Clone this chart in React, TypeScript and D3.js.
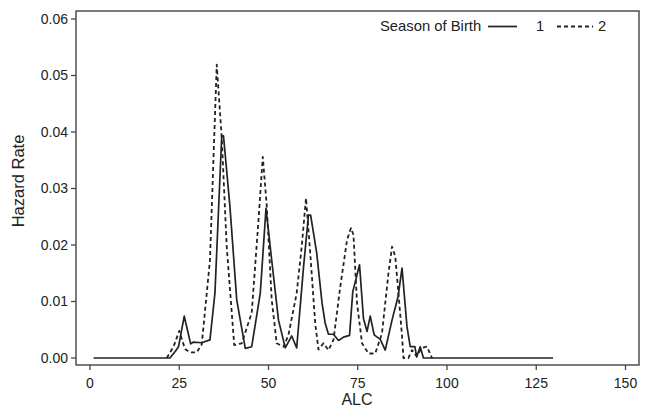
import React from "react";
import * as d3 from "d3";

// Series 1 (solid): [ALC, hazard]
const season1X = [1, 22.4, 23.8, 24.8, 26.4, 28.2, 28.9, 31.3, 33.6, 35, 36.9, 37.4, 39.2, 41.1, 43.5, 45.3, 47.7, 49.3, 50.9, 52.8, 54.7, 56.5, 57.9, 59.8, 61.2, 61.8, 63.5, 65, 65.9, 66.8, 68.2, 69.6, 71, 72.7, 73.6, 75.5, 76.6, 77.6, 78.5, 79.6, 81.3, 82.7, 84.6, 86.3, 87.4, 88.8, 89.7, 91, 91.5, 92.5, 93.4, 129.7];
const season1Y = [0, 0, 0.0011, 0.002, 0.0074, 0.0025, 0.0028, 0.0027, 0.0032, 0.0115, 0.0393, 0.0393, 0.0268, 0.0103, 0.0017, 0.002, 0.0115, 0.0265, 0.0173, 0.0067, 0.0018, 0.0039, 0.0018, 0.016, 0.0253, 0.0253, 0.0186, 0.0097, 0.0061, 0.0042, 0.0042, 0.0031, 0.0037, 0.004, 0.0117, 0.0165, 0.007, 0.0047, 0.0074, 0.0041, 0.0033, 0.0014, 0.0067, 0.0109, 0.0159, 0.0055, 0.002, 0.002, 0.0002, 0.002, 0, 0];

// Series 2 (dashed)
const season2X = [21.5, 23.4, 25, 26.6, 28, 29.9, 31.3, 33.6, 35.5, 36.9, 38.3, 40.4, 42.5, 45.3, 47.2, 48.4, 49.5, 50.9, 52.3, 54.2, 55.6, 57.9, 59.3, 60.5, 61.7, 63.1, 64, 65.4, 66.8, 68.2, 70.1, 72, 73.1, 73.8, 74.8, 76.2, 78, 79.9, 81.8, 83.6, 84.6, 85.5, 86.4, 87.4, 87.8, 89.2, 90.2, 91.5, 92.9, 94.4, 95.8];
const season2Y = [0, 0.002, 0.0048, 0.0016, 0.001, 0.001, 0.0024, 0.0173, 0.0519, 0.039, 0.0197, 0.0023, 0.0026, 0.008, 0.0244, 0.0356, 0.027, 0.0103, 0.0026, 0.002, 0.0041, 0.0115, 0.0197, 0.0283, 0.0185, 0.006, 0.0015, 0.0026, 0.0014, 0.0032, 0.0126, 0.0209, 0.023, 0.0218, 0.0097, 0.0026, 0.0008, 0.0008, 0.0044, 0.015, 0.0197, 0.018, 0.0115, 0.0039, 0, 0, 0.0014, 0.0003, 0.0018, 0.002, 0];

const xTicks = [0, 25, 50, 75, 100, 125, 150];
const yTicks = [0, 0.01, 0.02, 0.03, 0.04, 0.05, 0.06];
const legendTitle = "Season of Birth";
const seriesNames = ["1", "2"];
const xTitle = "ALC";
const yTitle = "Hazard Rate";

const W = 646;
const H = 410;
const FONT = "'Liberation Sans', Arial, sans-serif";
const INK = "#222";

export default function App() {
  const x = d3.scaleLinear().domain([0, 150]).range([90, 625.5]);
  const y = d3.scaleLinear().domain([0, 0.06]).range([358, 19]);
  const box = { l: 76, t: 11, r: 639, b: 365 };

  const line = d3
    .line<[number, number]>()
    .x((d) => x(d[0]))
    .y((d) => y(d[1]));

  const s1 = season1X.map((v, i) => [v, season1Y[i]] as [number, number]);
  const s2 = season2X.map((v, i) => [v, season2Y[i]] as [number, number]);

  return (
    <svg
      width={W}
      height={H}
      style={{ position: "absolute", left: 0, top: 0, background: "#fff" }}
      fontFamily={FONT}
    >
      <rect x={0} y={0} width={W} height={H} fill="#fff" />
      {/* series */}
      <path d={line(s1) || ""} fill="none" stroke={INK} strokeWidth={1.7} strokeLinejoin="round" />
      <path
        d={line(s2) || ""}
        fill="none"
        stroke={INK}
        strokeWidth={1.8}
        strokeDasharray="4,3"
        strokeLinejoin="round"
      />
      {/* frame */}
      <rect
        x={box.l}
        y={box.t}
        width={box.r - box.l}
        height={box.b - box.t}
        fill="none"
        stroke="#444"
        strokeWidth={1.4}
      />
      {/* y axis */}
      {yTicks.map((t) => (
        <g key={"y" + t}>
          <line x1={box.l - 5} x2={box.l} y1={y(t)} y2={y(t)} stroke="#444" strokeWidth={1.3} />
          <text
            x={68}
            y={y(t)}
            dy="0.35em"
            textAnchor="end"
            fontSize={14}
            fill={INK}
          >
            {d3.format(".2f")(t)}
          </text>
        </g>
      ))}
      {/* x axis */}
      {xTicks.map((t) => (
        <g key={"x" + t}>
          <line x1={x(t)} x2={x(t)} y1={box.b} y2={box.b + 5} stroke="#444" strokeWidth={1.3} />
          <text x={x(t)} y={388} textAnchor="middle" fontSize={14} fill={INK}>
            {t}
          </text>
        </g>
      ))}
      <text x={357} y={405} textAnchor="middle" fontSize={16} fill={INK}>
        {xTitle}
      </text>
      <text
        transform={`translate(24,181) rotate(-90)`}
        textAnchor="middle"
        fontSize={16.5}
        fill={INK}
      >
        {yTitle}
      </text>
      {/* legend */}
      <text x={380} y={31} fontSize={14.8} fill={INK}>
        {legendTitle}
      </text>
      <line x1={488} x2={517} y1={26.5} y2={26.5} stroke={INK} strokeWidth={1.7} />
      <text x={536} y={31} fontSize={14.8} fill={INK}>
        {seriesNames[0]}
      </text>
      <line
        x1={557}
        x2={593}
        y1={26.5}
        y2={26.5}
        stroke={INK}
        strokeWidth={1.8}
        strokeDasharray="4,3"
      />
      <text x={598} y={31} fontSize={14.8} fill={INK}>
        {seriesNames[1]}
      </text>
    </svg>
  );
}
